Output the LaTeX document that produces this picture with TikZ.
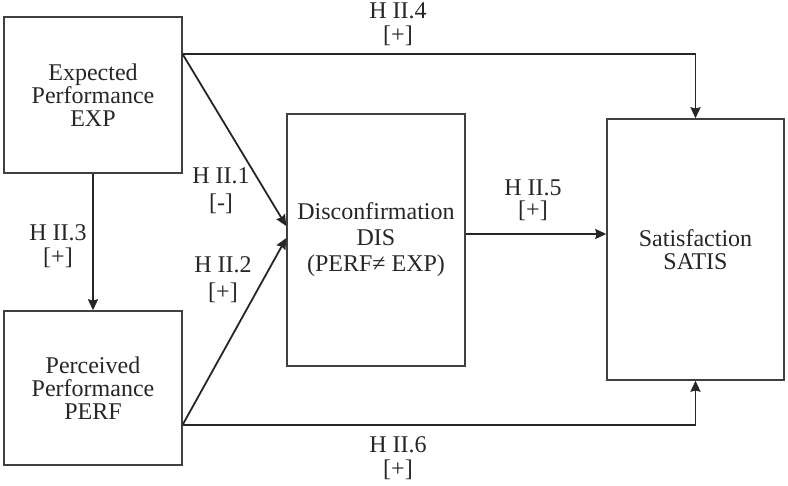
\documentclass[tikz,border=0pt]{standalone}
\usepackage{fontspec}
\setmainfont{Liberation Serif}
\usetikzlibrary{arrows.meta,calc}

\begin{document}
\begin{tikzpicture}[
  x=0.5pt,
  y=-0.5pt,
  box/.style={
      rectangle,
      draw=black!75,
      line width=0.7pt,
      align=center,
      inner sep=0pt,
      text=black!85,
      font=\fontsize{12}{11.5}\selectfont
  },
  lab/.style={
      align=center,
      inner sep=0pt,
      text=black!85,
      font=\fontsize{12}{12}\selectfont
  },
  arrow/.style={
      -{Stealth[length=5.5pt,width=5pt,inset=0.6pt]},
      line width=0.9pt,
      draw=black!85
  }
]

\useasboundingbox (0,0) rectangle (788,486);

% ==================================================
% Constructs
% ==================================================

\node[box,
      minimum width=89pt,
      minimum height=78pt]
      (exp) at (93,95)
      {Expected\\ Performance\\ EXP};

\node[box,
      minimum width=89pt,
      minimum height=77pt]
      (perf) at (93,388)
      {Perceived\\ Performance\\ PERF};

\node[box,
      minimum width=89pt,
      minimum height=126pt,
      font=\fontsize{12}{13}\selectfont]
      (dis) at (376,240)
      {Disconfirmation\\ DIS\\ (PERF≠ EXP)};

\node[box,
      minimum width=88.5pt,
      minimum height=130.5pt]
      (satis) at (695.5,249.5)
      {Satisfaction\\ SATIS};

% ==================================================
% Connector start points
% ==================================================

\coordinate (expa) at ($(exp.north east)+(0,38)$);
\coordinate (perfa) at ($(perf.south east)+(0,-41)$);

% ==================================================
% Hypotheses
% ==================================================

\draw[arrow]
      (expa)
      -| (satis.north);

\draw[arrow]
      (expa)
      -- ($(dis.west)+(0,-14)$);

\draw[arrow]
      (perfa)
      -- ($(dis.west)+(0,-2)$);

\draw[arrow]
      (exp.south)
      -- (perf.north);

\draw[arrow]
      ($(dis.east)+(0,-6)$)
      -- ($(satis.west)+(0,-15.5)$);

\draw[arrow]
      (perfa)
      -| (satis.south);

% ==================================================
% Labels
% ==================================================

\node[lab] (h4) at (398,24) {H II.4\\{}[+]};
\node[lab, font=\fontsize{12}{13.5}\selectfont]
      (h1) at (221,191) {H II.1\\{}[-]};
\node[lab, font=\fontsize{12}{13.5}\selectfont]
      (h2) at (223,280) {H II.2\\{}[+]};
\node[lab] (h3) at (58,246) {H II.3\\{}[+]};
\node[lab, font=\fontsize{12}{11}\selectfont]
      (h5) at (533,200) {H II.5\\{}[+]};
\node[lab] (h6) at (398,458) {H II.6\\{}[+]};

\end{tikzpicture}
\end{document}
